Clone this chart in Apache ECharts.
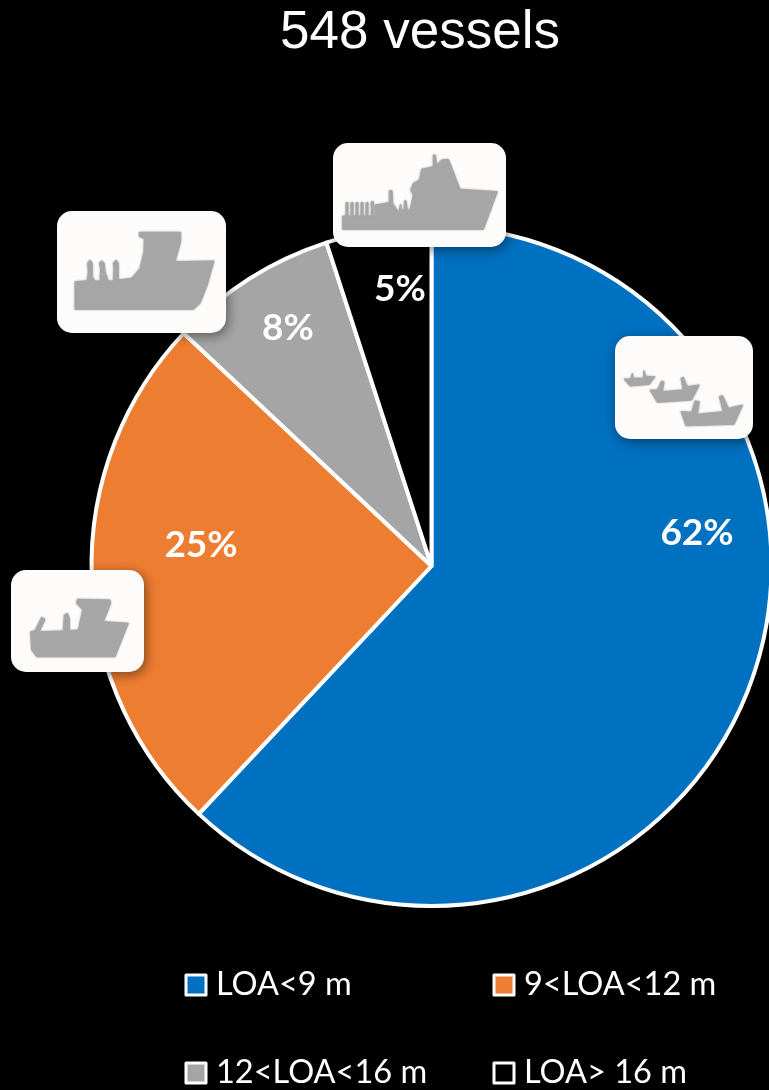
<!DOCTYPE html>
<html>
<head>
<meta charset="utf-8">
<style>
  html, body { margin: 0; padding: 0; background: #000; }
  #main { width: 769px; height: 1090px; }
</style>
<script src="https://cdn.jsdelivr.net/npm/echarts@6/dist/echarts.min.js"></script>
</head>
<body>
<div id="main"></div>
<script>
const titleText = '548 vessels';
const categories = ['LOA<9 m', '9<LOA<12 m', '12<LOA<16 m', 'LOA> 16 m'];
const shares = [62, 25, 8, 5];

const colors = ['#0070c0', '#ed7d31', '#a5a5a5', '#000000'];
const labelCenters = [[697, 533], [201, 545], [288, 328], [400, 289]];
const legendSpots = [[184.5, 985], [492.5, 985], [184.5, 1073], [492.5, 1073]];

// icon cards: outlines are in the coordinates of a 3x crop starting at origin
const icons = [
  {
    card: [333, 143, 173, 104],
    origin: [320, 130],
    ships: [
      [[68, 258], [68, 298], [490, 298], [508, 250], [532, 185], [420, 178], [410, 152], [396, 115], [385, 88], [365, 90], [350, 105], [346, 75], [340, 75], [340, 110], [305, 118], [298, 150], [280, 160], [272, 180], [280, 195], [270, 240], [262, 240], [258, 212], [254, 212], [252, 240], [244, 240], [242, 222], [236, 248], [218, 220], [216, 182], [208, 182], [208, 218], [165, 225], [165, 258]],
      [[78, 260], [78, 218], [84, 218], [84, 260]],
      [[93, 260], [93, 218], [99, 218], [99, 260]],
      [[108, 260], [108, 218], [114, 218], [114, 260]],
      [[123, 260], [123, 218], [129, 218], [129, 260]],
      [[138, 260], [138, 218], [144, 218], [144, 260]],
      [[154, 260], [154, 215], [160, 215], [160, 260]]
    ]
  },
  {
    card: [57, 211, 169, 122],
    origin: [50, 200],
    ships: [
      [[75, 245], [105, 243], [112, 240], [115, 215], [113, 190], [120, 180], [127, 190], [127, 230], [135, 243], [150, 243], [152, 205], [148, 190], [155, 182], [163, 190], [165, 215], [175, 243], [190, 243], [192, 205], [190, 190], [198, 180], [205, 190], [205, 240], [245, 235], [270, 205], [282, 155], [283, 115], [268, 110], [268, 97], [392, 97], [392, 125], [375, 185], [492, 183], [470, 260], [450, 310], [430, 328], [75, 328]]
    ]
  },
  {
    card: [615, 336, 138, 103],
    origin: [600, 325],
    ships: [
      [[72, 162], [92, 162], [97, 145], [100, 160], [130, 160], [132, 137], [138, 155], [165, 155], [148, 178], [90, 183]],
      [[150, 195], [172, 195], [185, 168], [192, 172], [187, 200], [250, 195], [243, 160], [250, 157], [262, 185], [298, 180], [275, 225], [172, 232]],
      [[243, 260], [275, 262], [285, 228], [298, 230], [292, 268], [370, 260], [358, 215], [368, 212], [385, 250], [428, 240], [402, 298], [258, 302]]
    ]
  },
  {
    card: [11, 570, 133, 102],
    origin: [0, 560],
    ships: [
      [[92, 215], [105, 212], [125, 172], [135, 178], [118, 215], [190, 213], [193, 165], [202, 160], [208, 175], [208, 212], [235, 210], [248, 150], [230, 130], [232, 118], [330, 120], [332, 130], [310, 185], [385, 190], [355, 265], [345, 290], [110, 290], [95, 270]]
    ]
  }
];

const graphic = [];
icons.forEach((icon) => {
  graphic.push({
    type: 'rect',
    z: 100,
    shape: { x: icon.card[0], y: icon.card[1], width: icon.card[2], height: icon.card[3], r: 15 },
    style: { fill: '#fdfcfb', shadowBlur: 12, shadowColor: 'rgba(0,0,0,0.45)', shadowOffsetX: 2, shadowOffsetY: 3 }
  });
  graphic.push({
    type: 'group',
    z: 101,
    x: icon.origin[0],
    y: icon.origin[1],
    scaleX: 1 / 3,
    scaleY: 1 / 3,
    children: icon.ships.map((points) => ({
      type: 'polygon',
      z: 101,
      shape: { points },
      style: { fill: '#a6a6a6', stroke: '#a6a6a6', lineWidth: 3, lineJoin: 'round', shadowBlur: 2, shadowColor: '#a6a6a6' }
    }))
  });
});

const chart = echarts.init(document.getElementById('main'));
chart.setOption({
  backgroundColor: '#000',
  animation: false,
  title: {
    text: titleText,
    left: 415,
    top: 2,
    textAlign: 'center',
    textStyle: { color: '#fff', fontFamily: 'Liberation Sans', fontSize: 53, fontWeight: 'normal' }
  },
  legend: categories.map((name, i) => ({
    data: [name],
    left: legendSpots[i][0],
    top: legendSpots[i][1] - 20,
    padding: 0,
    icon: 'rect',
    itemWidth: 20,
    itemHeight: 20,
    itemGap: 0,
    selectedMode: false,
    itemStyle: { borderColor: '#fff', borderWidth: 3 },
    textStyle: { color: '#fff', fontFamily: 'Lato', fontSize: 32.5, height: 40, lineHeight: 40, padding: [0, 0, 0, 5] }
  })),
  series: [
    {
      type: 'pie',
      center: [431.5, 566],
      radius: 340,
      startAngle: 90,
      clockwise: true,
      silent: true,
      data: categories.map((name, i) => ({ name, value: shares[i], itemStyle: { color: colors[i] } })),
      itemStyle: { borderColor: '#fff', borderWidth: 4 },
      label: {
        show: true,
        position: 'inside',
        formatter: '{c}%',
        color: '#fff',
        fontFamily: 'Lato',
        fontWeight: 'bold',
        fontSize: 37
      },
      labelLine: { show: false },
      labelLayout: (params) => ({
        x: labelCenters[params.dataIndex][0],
        y: labelCenters[params.dataIndex][1],
        align: 'center',
        verticalAlign: 'middle'
      })
    }
  ],
  graphic
});
</script>
</body>
</html>
